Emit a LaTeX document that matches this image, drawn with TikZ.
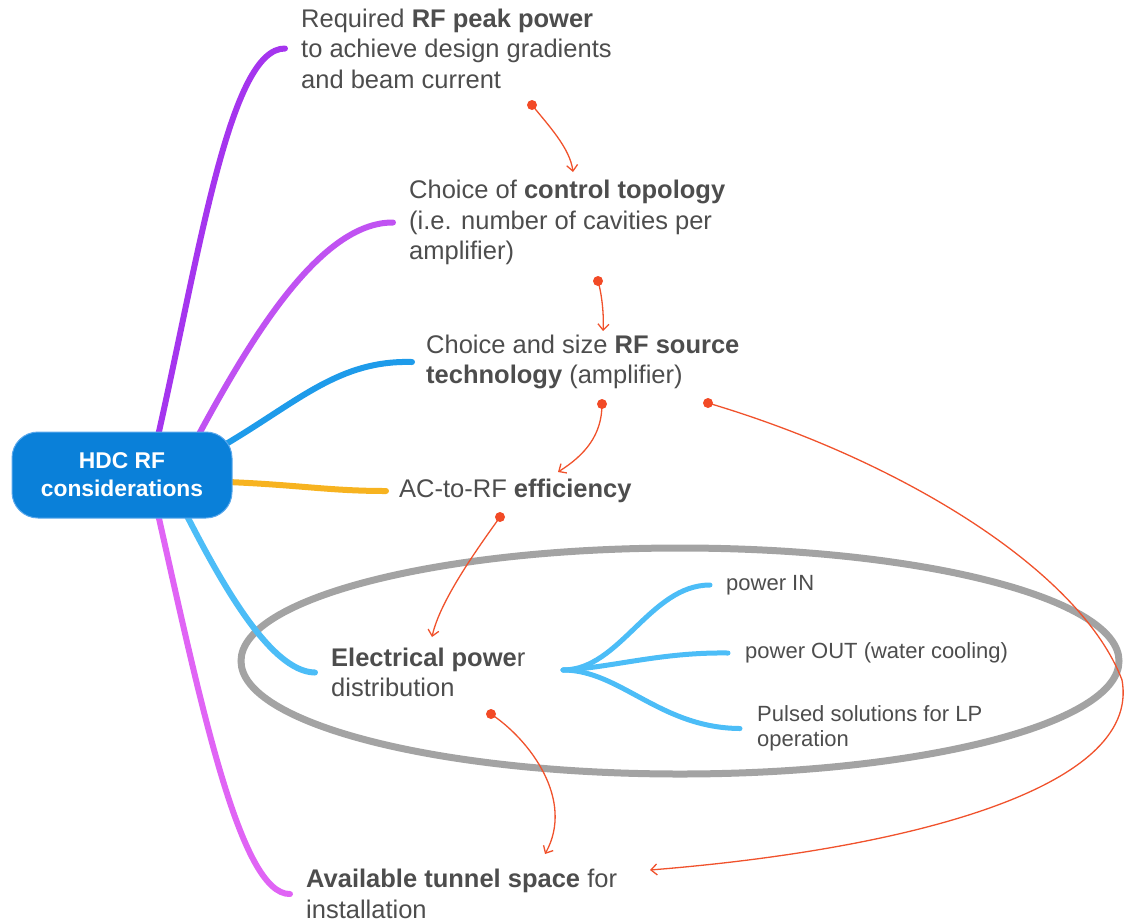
\documentclass[tikz,border=0pt]{standalone}
\usepackage{fontspec}
\setmainfont{Liberation Sans}
\usetikzlibrary{arrows.meta,calc}
\definecolor{txt}{HTML}{4D4D4D}
\definecolor{hubblue}{HTML}{0A80D9}
\definecolor{hubedge}{HTML}{5AA8EC}
\definecolor{cpurA}{HTML}{A535EE}
\definecolor{cpurB}{HTML}{C052F2}
\definecolor{cblue}{HTML}{1E9BEA}
\definecolor{corange}{HTML}{F7B320}
\definecolor{clight}{HTML}{4CBDF7}
\definecolor{cpink}{HTML}{E064F5}
\definecolor{cgray}{HTML}{A3A3A3}
\definecolor{cred}{HTML}{F0522C}
\definecolor{cdot}{HTML}{F24A26}
\tikzset{
  hub/.style={fill=hubblue, draw=hubedge, line width=1pt, rounded corners=26pt,
    minimum width=220pt, minimum height=86pt, text=white, align=center,
    font=\fontsize{22.8}{28}\selectfont\bfseries, inner sep=0pt},
  topic/.style={anchor=west, align=left, text=txt, inner sep=0pt,
    font=\fontsize{25.5}{30.5}\selectfont},
  subtopic/.style={anchor=west, align=left, text=txt, inner sep=0pt,
    font=\fontsize{22}{25}\selectfont},
  branch/.style={line width=6pt, line cap=round},
  subbranch/.style={line width=5pt, line cap=round, draw=clight},
  rarrow/.style={draw=cred, line width=1.3pt, -{Straight Barb[length=6pt,width=11pt]}},
  dotn/.style={circle, fill=cdot, minimum size=10pt, inner sep=0pt},
}
\begin{document}
\begin{tikzpicture}[x=1pt,y=-1pt]
\useasboundingbox (0,0) rectangle (1126,922);

% text nodes
\node[topic] (t1) at (301,48.5) {Required \textbf{RF peak power}\\to achieve design gradients\\and beam current};
\node[topic] (t2) at (409,222.5) {Choice of \textbf{control topology}\\(i.e. number of cavities per\\amplifier)};
\node[topic] (t3) at (426,362) {Choice and size \textbf{RF source}\\\textbf{technology} (amplifier)};
\node[topic] (t4) at (399,491) {AC-to-RF \textbf{efficiency}};
\node[topic] (t5) at (331,672.5) {\textbf{Electrical powe}r\\distribution};
\node[topic] (t6) at (306,894) {\textbf{Available tunnel space} for\\installation};
\node[subtopic] (s1) at (726,585) {power IN};
\node[subtopic] (s2) at (745,653) {power OUT (water cooling)};
\node[subtopic] (s3) at (757,728.5) {Pulsed solutions for LP\\operation};

% ellipse
\coordinate (ell) at (680,661);
\draw[cgray, line width=7pt] (ell) ellipse [x radius=439, y radius=113];

% hub anchors
\coordinate (hubref) at (122,475);
\coordinate (b1s) at (158,436);
\coordinate (b2s) at (198,436);
\coordinate (b3s) at (226,444);
\coordinate (b4s) at (228,482);
\coordinate (b5s) at (186,514);
\coordinate (b6s) at (158,514);

% main branches
\draw[branch, cpurA] (b1s) .. controls (200,250) and (230,48) .. ([xshift=-16pt]t1.west);
\draw[branch, cpurB] (b2s) .. controls (250,340) and (320,222) .. ([xshift=-16pt]t2.west);
\draw[branch, cblue] (b3s) .. controls (300,400) and (340,360) .. ([xshift=-14pt]t3.west);
\draw[branch, corange] (b4s) .. controls (300,485) and (330,491) .. ([xshift=-13pt]t4.west);
\draw[branch, clight] (b5s) .. controls (220,580) and (270,672) .. ([xshift=-16pt]t5.west);
\draw[branch, cpink] (b6s) .. controls (200,700) and (240,895) .. ([xshift=-16pt]t6.west);

\node[hub] (hub) at (hubref) {HDC RF\\considerations};

% sub branches
\coordinate (sb) at (563,670);
\draw[subbranch] (sb) .. controls (620,670) and (650,585) .. ([xshift=-16pt]s1.west);
\draw[subbranch] (sb) .. controls (610,668) and (660,652) .. ([xshift=-17pt]s2.west);
\draw[subbranch] (sb) .. controls (620,670) and (660,728) .. ([xshift=-17pt]s3.west);

% dependency arrows
\coordinate (a1) at (573,172);
\coordinate (a2) at (603,331);
\coordinate (a3) at (558,472);
\coordinate (a4) at (432,637);
\coordinate (a5) at (545,854);
\coordinate (a6) at (650,870);
\coordinate (a6m) at (1122,680);
\draw[rarrow] (532,105) coordinate (d1) .. controls (548,125) and (570,148) .. (a1);
\draw[rarrow] (598,281) coordinate (d2) .. controls (602,295) and (604,315) .. (a2);
\draw[rarrow] (602,404) coordinate (d3) .. controls (602,435) and (585,455) .. (a3);
\draw[rarrow] (500,517) coordinate (d4) .. controls (480,545) and (440,600) .. (a4);
\draw[rarrow] (491,714) coordinate (d5) .. controls (530,740) and (575,800) .. (a5);
\draw[rarrow] (708,403) coordinate (d6) .. controls (900,460) and (1080,570) .. (a6m)
   .. controls (1142,790) and (900,850) .. (a6);
\foreach \d in {d1,d2,d3,d4,d5,d6} \node[dotn] at (\d) {};
\end{tikzpicture}
\end{document}
